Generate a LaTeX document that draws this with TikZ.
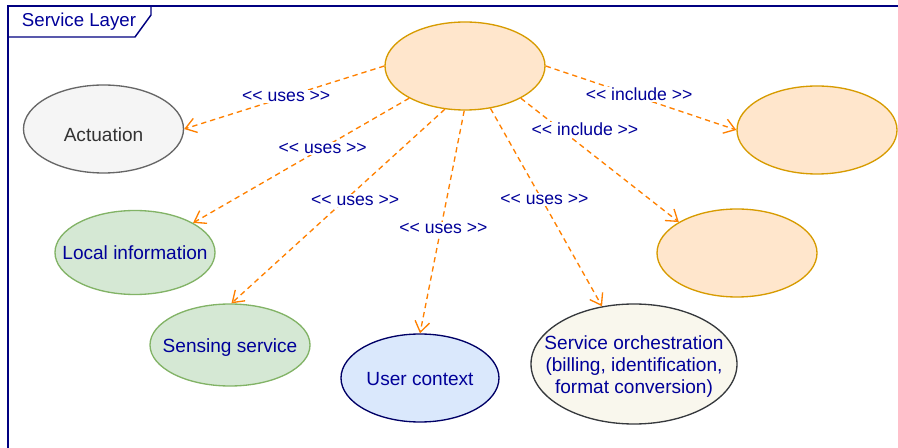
\documentclass[tikz,border=0pt]{standalone}
\usepackage{fontspec}
\setmainfont[Ligatures=NoCommon]{Liberation Sans}
\usetikzlibrary{arrows.meta,shapes.geometric}
\definecolor{navy}{HTML}{000099}
\definecolor{framec}{HTML}{000080}
\definecolor{arrowc}{HTML}{FF8000}
\definecolor{orfill}{HTML}{FFE6CC}
\definecolor{ordraw}{HTML}{D79B00}
\definecolor{grfill}{HTML}{F5F5F5}
\definecolor{grdraw}{HTML}{666666}
\definecolor{grtext}{HTML}{333333}
\definecolor{gnfill}{HTML}{D5E8D4}
\definecolor{gndraw}{HTML}{82B366}
\definecolor{blfill}{HTML}{DAE8FC}
\definecolor{bldraw}{HTML}{000066}
\definecolor{ysfill}{HTML}{F9F7ED}
\definecolor{ysdraw}{HTML}{36393D}
\newcommand{\ctext}[2][-2pt]{\raisebox{#1}[\height][\depth]{\makebox[0pt]{\begin{tabular}{@{}c@{}}#2\end{tabular}}}}
\newcommand{\stereo}[1]{<{}< #1 >{}>}
\begin{document}
\begin{tikzpicture}[x=0.75pt,y=-0.75pt,
  uc/.style={ellipse, draw, line width=1pt, minimum width=120pt, minimum height=66pt,
    inner sep=0pt, font=\fontsize{14.3}{16.5}\selectfont, text=navy},
  orangeuc/.style={uc, fill=orfill, draw=ordraw},
  grayuc/.style={uc, fill=grfill, draw=grdraw, text=grtext},
  greenuc/.style={uc, fill=gnfill, draw=gndraw},
  blueuc/.style={uc, fill=blfill, draw=bldraw},
  yellowuc/.style={uc, fill=ysfill, draw=ysdraw},
  rel/.style={draw=arrowc, line width=1pt, dash pattern=on 4pt off 3pt,
    -{Straight Barb[length=8pt,width=11pt]}},
  lbl/.style={fill=white, inner sep=1pt, text=navy, font=\fontsize{13.2}{15}\selectfont},
  frame/.style={draw=framec, line width=1.1pt},
  framelbl/.style={text=navy, font=\fontsize{14}{16.5}\selectfont, inner sep=0pt}]
\useasboundingbox (0,0) rectangle (898,448);
% frame
\draw[frame] (8,448) -- (8,6) -- (898,6);
\draw[frame] (8,6) -- (151,6) -- (151,15) -- (135,37) -- (8,37);
\node[framelbl] (frametitle) at (79,22) {Service Layer};
% use cases
\node[orangeuc] (top) at (465,66) {};
\node[grayuc] (act) at (103.5,129) {\ctext[-6pt]{Actuation}};
\node[orangeuc] (rtop) at (817,130) {};
\node[orangeuc] (rmid) at (737,253) {};
\node[greenuc, minimum height=63pt] (loc) at (135,252.5) {\ctext{Local information}};
\node[greenuc, minimum height=61.5pt] (sens) at (230,345) {\ctext{Sensing service}};
\node[blueuc, minimum width=118.5pt] (user) at (420,378) {\ctext{User context}};
\node[yellowuc, minimum width=154.5pt, minimum height=90pt] (orch) at (634,364)
  {\ctext{Service orchestration\\(billing, identification,\\format conversion)}};
% relations
\draw[rel] (top.west) -- node[lbl, pos=0.49] {\stereo{uses}} (act.east);
\draw[rel] (top.210) -- node[lbl, pos=0.40] {\stereo{uses}} (loc.27);
\draw[rel] (top.245) -- node[lbl, pos=0.47, xshift=8pt] {\stereo{uses}} (sens.88);
\draw[rel] (top.269) -- node[lbl, pos=0.53, xshift=2pt] {\stereo{uses}} (user.north);
\draw[rel] (top.301) -- node[lbl, pos=0.46, xshift=2pt] {\stereo{uses}} (orch.119.5);
\draw[rel] (top.east) -- node[lbl, pos=0.49, yshift=2pt] {\stereo{include}} (rtop.west);
\draw[rel] (top.330) -- node[lbl, pos=0.254, xshift=18pt] {\stereo{include}} (rmid.152);
\end{tikzpicture}
\end{document}
